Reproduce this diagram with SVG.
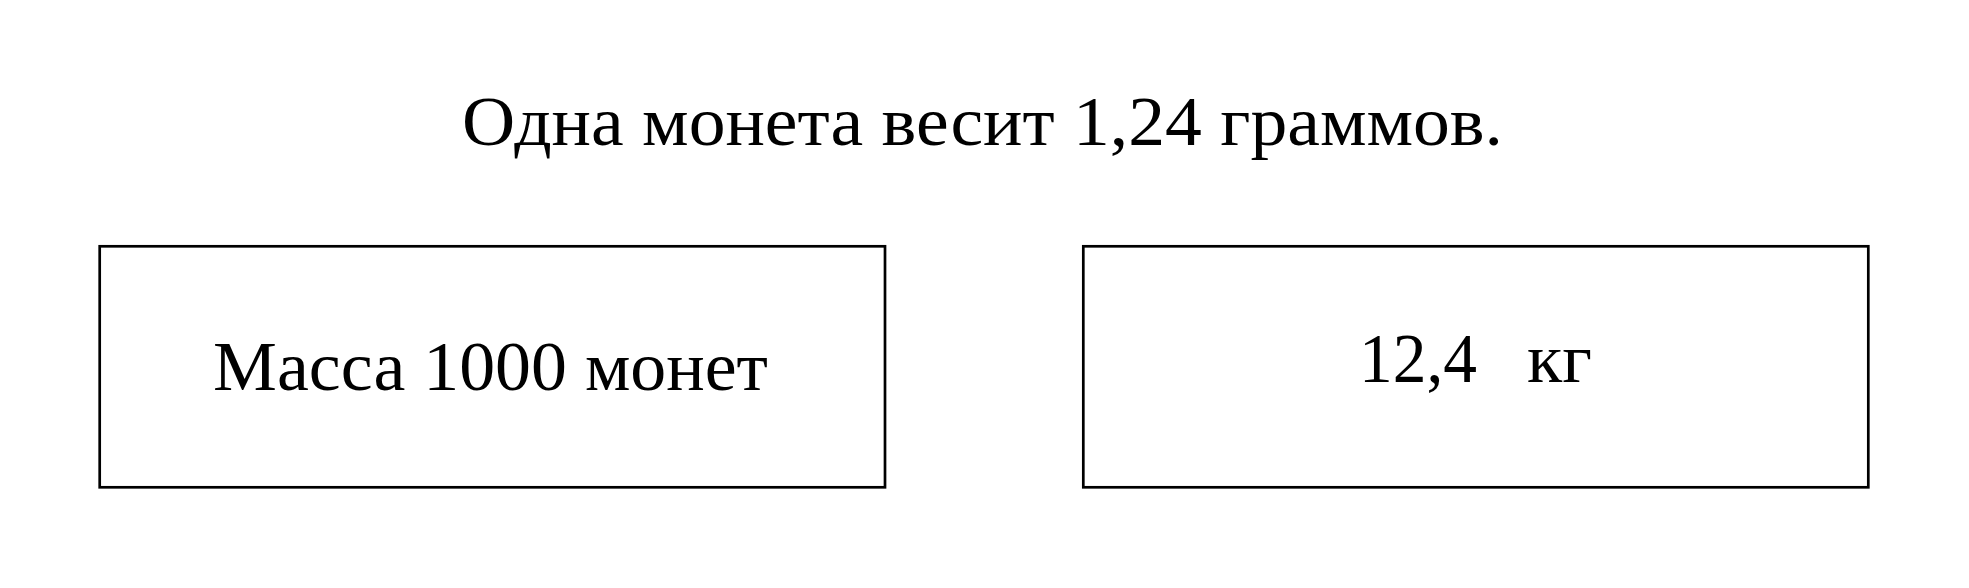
<svg xmlns="http://www.w3.org/2000/svg" width="1969" height="588" viewBox="0 0 1969 588">
<style>
.box{fill:#fff;stroke:#000;stroke-width:2.7}
.t{font-family:"Liberation Serif","DejaVu Serif",serif;font-size:70px;fill:#000}
</style>
<rect width="1969" height="588" fill="#fff"/>
<g id="title">
<text class="t" x="462" y="145" textLength="1041" lengthAdjust="spacingAndGlyphs">Одна монета весит 1,24 граммов.</text>
</g>
<g id="node-mass">
<rect class="box" x="99.7" y="246.3" width="785.3" height="241"/>
<text class="t" x="213" y="390" textLength="555" lengthAdjust="spacingAndGlyphs">Масса 1000 монет</text>
</g>
<g id="node-answer">
<rect class="box" x="1083.3" y="246.3" width="785" height="241"/>
<text class="t" x="1359" y="382" textLength="118" lengthAdjust="spacingAndGlyphs">12,4</text>
<text class="t" x="1527" y="382" textLength="65" lengthAdjust="spacingAndGlyphs">кг</text>
</g>
<g id="connectors"></g>
</svg>
